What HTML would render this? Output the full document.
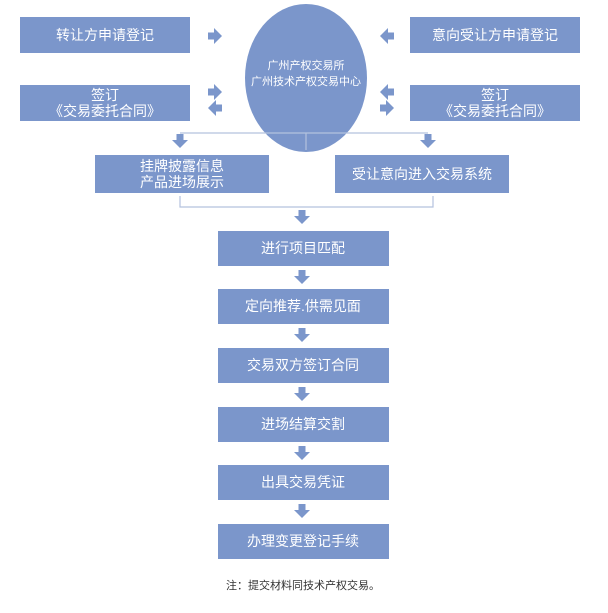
<!DOCTYPE html>
<html><head><meta charset="utf-8"><style>
body{margin:0;background:#fff}
svg{display:block}
text{font-family:"Liberation Sans","Noto Sans CJK SC",sans-serif;fill:#fff;text-anchor:middle}
</style></head><body>
<svg width="608" height="613" viewBox="0 0 608 613" xmlns="http://www.w3.org/2000/svg">
<defs>
<g id="ad"><rect x="-3.5" y="0" width="7" height="7" fill="#7b96cb"/><polygon points="-8,6 8,6 0,14" fill="#7b96cb"/></g>
<g id="ar"><rect x="0" y="-3.5" width="7" height="7" fill="#7b96cb"/><polygon points="6,-8 6,8 14,0" fill="#7b96cb"/></g>
<g id="al"><rect x="7" y="-3.5" width="7" height="7" fill="#7b96cb"/><polygon points="8,-8 8,8 0,0" fill="#7b96cb"/></g>
</defs>
<g fill="#7b96cb">
<rect x="20" y="17" width="170" height="36"/>
<rect x="410" y="17" width="170" height="36"/>
<rect x="20" y="85" width="170" height="36"/>
<rect x="410" y="85" width="170" height="36"/>
<ellipse cx="306" cy="78" rx="61" ry="74"/>
<rect x="95" y="155" width="174" height="38"/>
<rect x="335" y="155" width="174" height="38"/>
<rect x="218" y="231" width="171" height="35"/>
<rect x="218" y="289" width="171" height="35"/>
<rect x="218" y="348" width="171" height="35"/>
<rect x="218" y="407" width="171" height="35"/>
<rect x="218" y="465" width="171" height="35"/>
<rect x="218" y="524" width="171" height="35"/>
</g>
<g stroke="#b4c2de" stroke-width="1.2" fill="none">
<line x1="306" y1="150" x2="306" y2="133"/>
<line x1="180" y1="133" x2="428" y2="133"/>
<polyline points="180,196 180,207 433,207 433,196"/>
</g>
<use href="#ar" x="208" y="36"/>
<use href="#al" x="380" y="36"/>
<use href="#ar" x="208" y="92"/>
<use href="#al" x="208" y="108"/>
<use href="#al" x="380" y="92"/>
<use href="#ar" x="380" y="108"/>
<use href="#ad" x="180" y="134"/>
<use href="#ad" x="428" y="134"/>
<use href="#ad" x="302" y="210"/>
<use href="#ad" x="302" y="270"/>
<use href="#ad" x="302" y="328"/>
<use href="#ad" x="302" y="387"/>
<use href="#ad" x="302" y="446"/>
<use href="#ad" x="302" y="504"/>
<g font-size="14">
<text x="105" y="40">转让方申请登记</text>
<text x="495" y="40">意向受让方申请登记</text>
<text x="105" y="100">签订</text>
<text x="105" y="116">《交易委托合同》</text>
<text x="495" y="100">签订</text>
<text x="495" y="116">《交易委托合同》</text>
<text x="182" y="171">挂牌披露信息</text>
<text x="182" y="187">产品进场展示</text>
<text x="422" y="179">受让意向进入交易系统</text>
<text x="303" y="253">进行项目匹配</text>
<text x="303" y="311">定向推荐.供需见面</text>
<text x="303" y="370">交易双方签订合同</text>
<text x="303" y="429">进场结算交割</text>
<text x="303" y="487">出具交易凭证</text>
<text x="303" y="546">办理变更登记手续</text>
</g>
<g font-size="11">
<text x="306" y="69">广州产权交易所</text>
<text x="306" y="85">广州技术产权交易中心</text>
</g>
<text x="303" y="589" font-size="11" style="fill:#333">注：提交材料同技术产权交易。</text>
</svg>
</body></html>
